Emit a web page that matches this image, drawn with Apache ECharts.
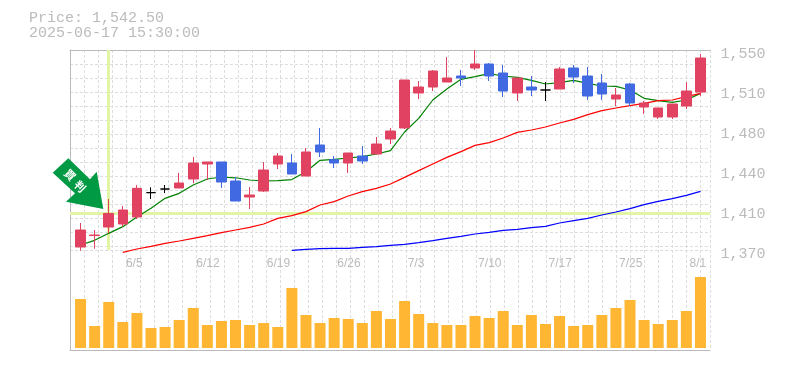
<!DOCTYPE html>
<html>
<head>
<meta charset="utf-8">
<style>html,body{margin:0;padding:0;background:#fff}#chart{width:785px;height:370px}</style>
<script src="https://cdn.jsdelivr.net/npm/echarts@6/dist/echarts.min.js"></script>
</head>
<body>
<div id="chart"></div>
<script>
const categories = ['5/30','6/2','6/3','6/4','6/5','6/6','6/9','6/10','6/11','6/12','6/13','6/16','6/17','6/18','6/19','6/20','6/23','6/24','6/25','6/26','6/27','6/30','7/1','7/2','7/3','7/4','7/7','7/8','7/9','7/10','7/11','7/14','7/15','7/16','7/17','7/18','7/22','7/23','7/24','7/25','7/28','7/29','7/30','7/31','8/1']
const xTickLabels = ['6/5','6/12','6/19','6/26','7/3','7/10','7/17','7/25','8/1']
const yTickLabels = ['1,370','1,410','1,440','1,480','1,510','1,550']

const opens = [1372.7,1383,1390.7,1393.4,1399.7,1421.6,1424.9,1425.8,1433.9,1447.4,1449.2,1432.1,1417.7,1423.1,1447.4,1448.3,1436.6,1464.5,1451.3,1448.3,1454.6,1456.4,1469.9,1479.8,1511.3,1516.7,1521.2,1526.6,1533.8,1537.4,1529.3,1511.3,1516.7,1514,1514.9,1533.8,1526.6,1520.3,1505.9,1519.4,1498.7,1489.7,1489.7,1499.6,1512.2]
const closes = [1388,1383.5,1402.9,1406,1425.5,1421.6,1424.9,1430.3,1448.3,1449.2,1431.2,1414.1,1419.5,1442,1454.6,1438.4,1458.2,1458.2,1448.3,1457.3,1450.1,1465.4,1477.1,1523,1516.7,1531.1,1524.8,1524.8,1537.4,1526.6,1513.1,1524.8,1514,1514,1532.9,1525.7,1508.6,1510.4,1509.5,1502.3,1502.3,1497.8,1501.4,1513.1,1542.8]
const lows = [1369.4,1371.2,1385,1391,1397.9,1415.9,1421.3,1425.8,1430,1433,1425.8,1414.1,1406.9,1422.2,1442.9,1438.4,1436.6,1453.7,1443.8,1439.3,1447.4,1456.4,1465.4,1478.9,1505.9,1513.1,1521.2,1517.6,1532,1522.1,1507.7,1504.1,1508.6,1504.1,1514.9,1520.3,1505,1505,1499.6,1499.6,1492.4,1487.9,1487.9,1496.9,1508.6]
const highs = [1394.3,1388,1415.9,1409.6,1428.5,1426.4,1428.5,1439.3,1453.7,1449.2,1449.2,1435.7,1426.7,1449.2,1457.3,1456.4,1461.8,1479.8,1454.6,1457.3,1463.6,1471.7,1479.8,1523,1522.1,1532,1543.7,1532,1550,1538.3,1536.5,1524.8,1526.6,1521.2,1534.7,1536.5,1534.7,1528.4,1515.8,1520.3,1504.1,1497.8,1501.4,1521.2,1546.4]

const maShort = [1374.5,1378.7,1385,1391,1399.7,1407.5,1416.5,1421,1428.5,1433.9,1435.7,1435,1433,1432.1,1432.4,1433.4,1440.5,1450.7,1451.6,1452.8,1454,1456.4,1459.4,1476.2,1488.5,1505,1514.9,1523.6,1526,1528.7,1526.6,1525.4,1522.7,1519.4,1520.6,1522.7,1520,1517.6,1517.3,1514,1506.5,1504.4,1502.9,1505,1511]
const maMid = [null,null,null,1367.9,1370.9,1373.3,1376,1378.1,1380.5,1382.9,1385.6,1388,1390.4,1393.4,1398.5,1400.9,1404.5,1410.5,1413.5,1418.6,1422.5,1425.5,1429.4,1435.4,1441.4,1447.4,1453.4,1458.5,1464.2,1466.6,1470.8,1475.9,1478,1480.7,1484.3,1487.6,1491.8,1495.4,1497.8,1499.9,1502,1504.4,1505,1508,1511]
const maLong = [null,null,null,null,null,null,null,null,null,null,null,null,null,null,null,1369.7,1370.6,1371.2,1371.5,1371.5,1372.4,1373,1374.2,1375.1,1376.6,1378.4,1380.5,1382.3,1384.4,1385.9,1387.7,1388.6,1390.1,1391.3,1394.3,1396.4,1398.5,1401.5,1404.2,1407.2,1410.8,1413.8,1416.2,1419.2,1422.8]
const volumes = [49000,22000,46000,26000,35000,20000,21000,28000,40000,23000,27000,28000,23000,25000,21000,60000,33000,25000,30000,29000,25000,37000,29000,47000,34000,25000,23000,23000,32000,30000,37000,23000,33000,24000,32000,22000,23000,33000,40000,48000,28000,24000,28000,37000,71000]

const markIndex = 2
const gray = '#bbbbbb'
const gridGray = '#dddddd'
const dash = [3, 2]
const mono = '"Liberation Mono", monospace'
const lineWidth = 1.2

const myChart = echarts.init(document.getElementById('chart'), null, { renderer: 'canvas' })

const kData = categories.map((c, i) => [opens[i], closes[i], lows[i], highs[i]])

const option = {
    backgroundColor: '#ffffff',
    animation: false,
    title: {
        text: 'Price: 1,542.50\n2025-06-17 15:30:00',
        left: 29,
        top: 11,
        padding: 0,
        textStyle: {
            color: gray,
            fontFamily: mono,
            fontSize: 15,
            fontWeight: 'normal',
            lineHeight: 15
        }
    },
    grid: [
        // background verticals, run through the volume panel too
        { left: 70, top: 50, width: 640, height: 300 },
        // background horizontals, price panel only
        { left: 70, top: 50, width: 640, height: 200 },
        // candles
        { left: 73.5, top: 50, width: 634, height: 200 },
        // volume
        { left: 73.5, top: 250, width: 634, height: 98 },
        // axis labels sit a little off the ticks
        { left: 62.5, top: 54, width: 634, height: 200 }
    ],
    xAxis: [
        {
            gridIndex: 0, type: 'value', min: 0, max: 640, interval: 14,
            axisLabel: { show: false }, axisTick: { show: false },
            axisLine: { show: true, lineStyle: { color: gray } },
            splitLine: { show: true, lineStyle: { color: gridGray, type: dash } }
        },
        {
            gridIndex: 1, type: 'value', min: 0, max: 640,
            axisLabel: { show: false }, axisTick: { show: false },
            axisLine: { show: true, lineStyle: { color: gray } },
            splitLine: { show: false }
        },
        {
            gridIndex: 2, type: 'category', data: categories,
            axisLabel: { show: false }, axisTick: { show: false }, axisLine: { show: false }
        },
        {
            gridIndex: 3, type: 'category', data: categories,
            axisLabel: { show: false }, axisTick: { show: false }, axisLine: { show: false }
        },
        {
            gridIndex: 4, type: 'category', data: categories,
            axisTick: { show: false }, axisLine: { show: false },
            axisLabel: {
                color: gray,
                fontFamily: '"Liberation Sans", Arial, sans-serif',
                fontSize: 12,
                align: 'left',
                margin: 4,
                hideOverlap: false,
                interval: (i, v) => xTickLabels.includes(v)
            }
        }
    ],
    yAxis: [
        {
            gridIndex: 0, type: 'value', min: 0, max: 1, position: 'right',
            axisLabel: { show: false }, axisTick: { show: false },
            axisLine: { show: true, lineStyle: { color: gray } },
            splitLine: { show: false }
        },
        {
            gridIndex: 1, type: 'value', min: 0, max: 200, interval: 14, inverse: true,
            axisLabel: { show: false }, axisTick: { show: false }, axisLine: { show: false },
            splitLine: { show: true, lineStyle: { color: gridGray, type: dash } }
        },
        {
            gridIndex: 2, type: 'value', min: 1370, max: 1550,
            axisLabel: { show: false }, axisTick: { show: false }, axisLine: { show: false },
            splitLine: { show: false }
        },
        {
            gridIndex: 3, type: 'value', min: 0, max: 98000,
            axisLabel: { show: false }, axisTick: { show: false }, axisLine: { show: false },
            splitLine: { show: false }
        },
        {
            gridIndex: 4, type: 'value', min: 0, max: 5, interval: 1, position: 'right',
            axisTick: { show: false }, axisLine: { show: false }, splitLine: { show: false },
            axisLabel: {
                color: gray,
                fontFamily: mono,
                fontSize: 15,
                align: 'left',
                margin: 24,
                formatter: v => yTickLabels[v]
            }
        },
        {
            // price scale on the wider grid, only for the horizontal mark
            gridIndex: 1, type: 'value', min: 1370, max: 1550,
            axisLabel: { show: false }, axisTick: { show: false }, axisLine: { show: false },
            splitLine: { show: false }
        }
    ],
    series: [
        {
            // crosshair on the marked candle's close
            type: 'line', name: 'mark x', xAxisIndex: 2, yAxisIndex: 2, data: [], z: 1,
            silent: true,
            markLine: {
                z: 1,
                silent: true,
                symbol: 'none',
                label: { show: false },
                lineStyle: { color: '#e2f5a5', width: 3, type: 'solid' },
                data: [
                    { xAxis: categories[markIndex] }
                ]
            }
        },
        {
            type: 'line', name: 'mark y', xAxisIndex: 1, yAxisIndex: 5, data: [], z: 1,
            silent: true,
            markLine: {
                z: 1,
                silent: true,
                symbol: 'none',
                label: { show: false },
                lineStyle: { color: '#e2f5a5', width: 3, type: 'solid' },
                data: [
                    { yAxis: closes[markIndex] }
                ]
            }
        },
        {
            type: 'line', name: 'MA short', xAxisIndex: 2, yAxisIndex: 2, data: maShort, z: 2,
            showSymbol: false, clip: false, lineStyle: { color: '#008000', width: lineWidth }
        },
        {
            type: 'line', name: 'MA mid', xAxisIndex: 2, yAxisIndex: 2, data: maMid, z: 2,
            showSymbol: false, clip: false, lineStyle: { color: '#ff0000', width: lineWidth }
        },
        {
            type: 'line', name: 'MA long', xAxisIndex: 2, yAxisIndex: 2, data: maLong, z: 2,
            showSymbol: false, clip: false, lineStyle: { color: '#0000ff', width: lineWidth }
        },
        {
            type: 'candlestick', name: 'price', xAxisIndex: 2, yAxisIndex: 2, data: kData, z: 3,
            barWidth: 10, clip: false,
            itemStyle: {
                color: '#e14261', color0: '#4169e1',
                borderColor: '#e14261', borderColor0: '#4169e1', borderColorDoji: '#000000',
                borderWidth: 1
            }
        },
        {
            type: 'bar', name: 'volume', xAxisIndex: 3, yAxisIndex: 3, data: volumes, z: 2,
            barWidth: 11, itemStyle: { color: '#ffb733' }
        }
    ],
    graphic: [
        {
            type: 'polygon', z: 100,
            shape: { points: [[52.7, 172.7], [68.3, 158.3], [90, 179.3], [96.7, 171.7], [103.3, 209], [66, 201.7], [75, 193.3]] },
            style: { fill: '#009944' }
        },
        {
            type: 'text', z: 101, x: 70, y: 175, rotation: -Math.PI / 4,
            style: { text: '買', fill: '#fff', font: 'bold 11px "Noto Sans CJK JP"', align: 'center', verticalAlign: 'middle' }
        },
        {
            type: 'text', z: 101, x: 80, y: 186.5, rotation: -Math.PI / 4,
            style: { text: '判', fill: '#fff', font: 'bold 11px "Noto Sans CJK JP"', align: 'center', verticalAlign: 'middle' }
        }
    ]
}

myChart.setOption(option)
</script>
</body>
</html>
